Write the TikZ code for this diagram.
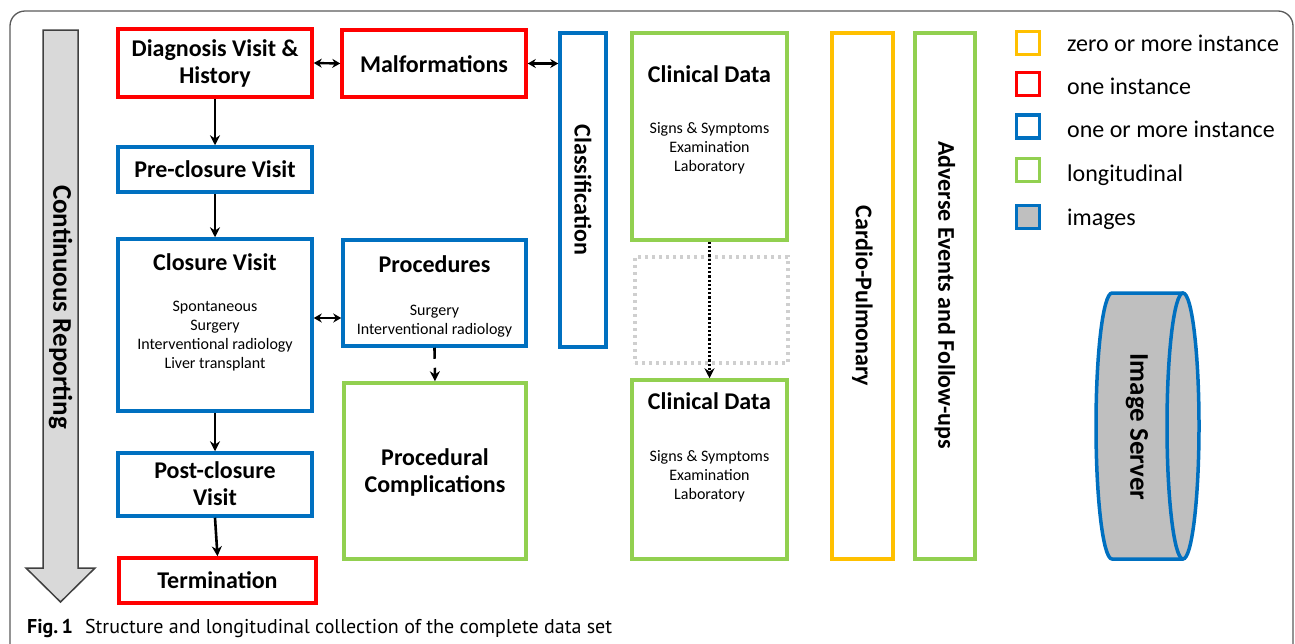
\documentclass[tikz,border=0pt]{standalone}
\usepackage{fontspec}
\setmainfont{Carlito}
\newfontfamily\capfont{PT Sans}
\usetikzlibrary{arrows.meta}
\definecolor{cred}{HTML}{FF0000}
\definecolor{cblue}{HTML}{0070C0}
\definecolor{cgreen}{HTML}{92D050}
\definecolor{corange}{HTML}{FFC000}
\definecolor{cgray}{HTML}{BFBFBF}
\definecolor{arrgray}{HTML}{D9D9D9}
\definecolor{arrline}{HTML}{404040}
\definecolor{framegray}{HTML}{5A5A5A}
\definecolor{ghostgray}{HTML}{CFCFCF}
\begin{document}
\begin{tikzpicture}[x=1pt,y=-1pt,
  box/.style={draw=#1, line width=3.5pt, inner sep=0pt},
  title/.style={font=\fontsize{24}{27}\selectfont\bfseries, align=center, inner sep=0pt},
  sub/.style={font=\fontsize{16}{19}\selectfont, align=center, inner sep=0pt},
  vtitle/.style={font=\fontsize{24}{27}\selectfont\bfseries, rotate=-90, inner sep=0pt},
  arr/.style={line width=2.6pt, -{Stealth[length=10pt,width=10pt]}},
  darr/.style={line width=2.4pt, {Stealth[length=8pt,width=9pt]}-{Stealth[length=8pt,width=9pt]}},
  leg/.style={draw=#1, line width=3.5pt, minimum size=23pt, inner sep=0pt},
  legtext/.style={font=\fontsize{24}{28}\selectfont, anchor=base west, inner sep=0pt},
]
\useasboundingbox (0,0) rectangle (1295,643);

% outer frame
\draw[framegray, line width=1.3pt, rounded corners=15pt] (10,670) -- (10,11) -- (1293,11) -- (1293,670);

% continuous reporting arrow
\draw[draw=arrline, fill=arrgray, line width=1.5pt, line join=miter]
  (43,30) -- (78,30) -- (78,568) -- (95,568) -- (60.5,602) -- (26,568) -- (43,568) -- cycle;
\node[font=\fontsize{27}{30}\selectfont\bfseries, rotate=-90, inner sep=0pt] (cont) at (60.5,307) {Continuous Reporting};

% left column
\node[box=cred, minimum width=194pt, minimum height=68pt] (diag) at (215,63) {};
\node[title] (diagt) at (215,63.5) {Diagnosis Visit \&\\History};
\node[box=cblue, minimum width=194pt, minimum height=45pt] (pre) at (215,169.5) {};
\node[title, anchor=base] (pret) at (215,177) {Pre-closure Visit};
\node[box=cblue, minimum width=194pt, minimum height=172pt] (clos) at (215,325) {};
\node[title, anchor=base] (clost) at (215,270) {Closure Visit};
\node[sub] (closs) at (215,336.5) {Spontaneous\\Surgery\\Interventional radiology\\Liver transplant};
\node[box=cblue, minimum width=194pt, minimum height=63pt] (post) at (215,484.5) {};
\node[title] (postt) at (215,484) {Post-closure\\Visit};
\node[box=cred, minimum width=197pt, minimum height=45pt] (term) at (217.5,580.5) {};
\node[title, anchor=base] (termt) at (217.5,588) {Termination};

% second column
\node[box=cred, minimum width=184pt, minimum height=67pt] (malf) at (434,63.5) {};
\node[title, anchor=base] (malft) at (434,72) {Malformations};
\node[box=cblue, minimum width=183pt, minimum height=106pt] (proc) at (434.5,293) {};
\node[title, anchor=base] (proct) at (434.5,272) {Procedures};
\node[sub] (procs) at (434.5,321) {Surgery\\Interventional radiology};
\node[box=cgreen, minimum width=182pt, minimum height=176pt] (pc) at (435,471) {};
\node[title] (pct) at (435,472) {Procedural\\Complications};

% classification
\node[box=cblue, minimum width=46pt, minimum height=314pt] (class) at (583,190) {};
\node[vtitle] (classt) at (583,190) {Classification};

% clinical data
\node[box=cgreen, minimum width=155pt, minimum height=207pt] (cd1) at (709.5,136.5) {};
\node[title, anchor=base] (cd1t) at (709.5,82) {Clinical Data};
\node[sub] (cd1s) at (709.5,148) {Signs \& Symptoms\\Examination\\Laboratory};
\node[draw=ghostgray, line width=3.5pt, dash pattern=on 3pt off 4pt, minimum width=153pt, minimum height=106pt, inner sep=0pt] (ghost) at (711.5,310) {};
\node[box=cgreen, minimum width=155pt, minimum height=179pt] (cd2) at (709.5,469.5) {};
\node[title, anchor=base] (cd2t) at (709.5,409) {Clinical Data};
\node[sub] (cd2s) at (709.5,476) {Signs \& Symptoms\\Examination\\Laboratory};

% tall boxes
\node[box=corange, minimum width=61pt, minimum height=526pt] (cp) at (862.5,296) {};
\node[vtitle] (cpt) at (862.5,296) {Cardio-Pulmonary};
\node[box=cgreen, minimum width=60pt, minimum height=526pt] (ae) at (945,296) {};
\node[vtitle] (aet) at (945,295) {Adverse Events and Follow-ups};

% image server cylinder
\fill[cgray] (1112,293) rectangle (1183,559);
\fill[cgray] (1112,426) ellipse [x radius=16, y radius=133];
\fill[cgray] (1183,426) ellipse [x radius=16, y radius=133];
\draw[cblue, line width=3.5pt] (1183,426) ellipse [x radius=16, y radius=133];
\draw[cblue, line width=3.5pt, line join=round] (1183,293) -- (1112,293)
  arc[start angle=270, end angle=90, x radius=16, y radius=133] -- (1183,559);
\node[font=\fontsize{27}{30}\selectfont\bfseries, rotate=-90, inner sep=0pt] (imgs) at (1137,427) {Image Server};

% connectors
\draw[arr] (diag.south) -- (pre.north);
\draw[arr] (pre.south) -- (clos.north);
\draw[arr] (clos.south) -- (post.north);
\draw[arr] (post.south) -- (term.north);
\draw[darr] (diag.east) -- (malf.west);
\draw[darr] (malf.east) -- (malf.east -| class.west);
\coordinate (cpy) at (0,318);
\draw[darr] (clos.east |- cpy) -- (proc.west |- cpy);
\draw[arr, dash pattern=on 11pt off 9pt] (proc.south) -- (pc.north);
\draw[line width=2.8pt, dash pattern=on 2.2pt off 2pt, -{Stealth[length=10pt,width=10pt]}] (cd1.south) -- (cd2.north);

% legend
\node[leg=corange] (l1) at (1028,43) {};
\node[legtext] (l1t) at (1067,51.5) {zero or more instance};
\node[leg=cred] (l2) at (1028,84) {};
\node[legtext] (l2t) at (1067,94) {one instance};
\node[leg=cblue] (l3) at (1028,126.5) {};
\node[legtext] (l3t) at (1067,137) {one or more instance};
\node[leg=cgreen] (l4) at (1028,170) {};
\node[legtext] (l4t) at (1067,181) {longitudinal};
\node[leg=cblue, fill=cgray] (l5) at (1028,217) {};
\node[legtext] (l5t) at (1067,225) {images};

% caption
\node[anchor=base west, inner sep=0pt, font=\capfont\fontsize{20}{23}\selectfont] (cap) at (27,633)
  {\textbf{Fig.\,1}\hspace{12pt}Structure and longitudinal collection of the complete data set};
\end{tikzpicture}
\end{document}
